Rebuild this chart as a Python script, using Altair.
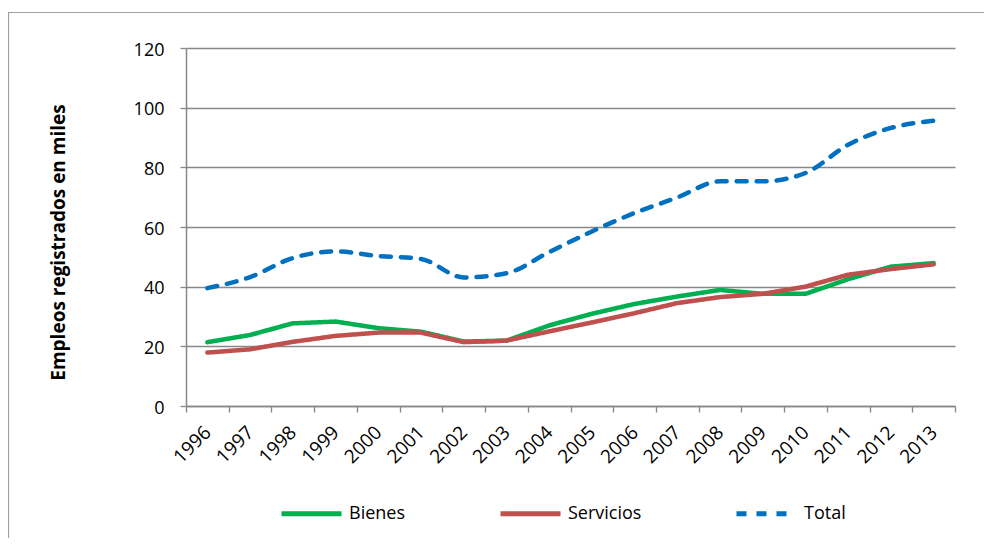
import altair as alt
import pandas as pd

years = [str(y) for y in range(1996, 2014)]
bienes = [21.4, 23.8, 27.7, 28.3, 26.1, 24.9, 21.6, 21.9, 27.0, 30.9, 34.2, 36.7, 38.9, 37.6, 37.6, 42.5, 46.7, 47.9]
servicios = [17.9, 19.0, 21.5, 23.5, 24.6, 24.6, 21.4, 21.9, 25.0, 28.0, 31.1, 34.5, 36.5, 37.6, 40.0, 44.0, 45.9, 47.5]
total = [39.5, 43.2, 49.6, 51.8, 50.3, 49.3, 43.1, 44.5, 51.6, 58.5, 64.7, 69.9, 75.3, 75.3, 78.1, 87.6, 93.2, 95.6]
series = ["Bienes", "Servicios", "Total"]
colors = ["#00B050", "#C0504D", "#0070C0"]
dashes = [[1, 0], [1, 0], [10, 10]]
y_ticks = [0, 20, 40, 60, 80, 100, 120]

rows = []
for name, vals in zip(series, [bienes, servicios, total]):
    for yr, v in zip(years, vals):
        rows.append({"year": yr, "serie": name, "valor": v})
df = pd.DataFrame(rows)

FONT = "Open Sans"
GRID = "#888888"

legend = alt.Legend(
    title=None, orient="none", legendX=93, legendY=433, direction="horizontal",
    symbolType="stroke", symbolSize=3600, symbolStrokeWidth=5,
    labelFont=FONT, labelFontSize=18, labelColor="#000000", labelOffset=5,
    columnPadding=84, padding=0,
)

x_enc = alt.X(
    "year:O", sort=years,
    scale=alt.Scale(type="band", paddingInner=0, paddingOuter=0),
    bandPosition=0.5,
    axis=alt.Axis(
        title=None, labelAngle=-45, tickBand="extent", labelAlign="right",
        labelBaseline="middle", labelPadding=17, tickSize=6, domainColor=GRID,
        tickColor=GRID, domainWidth=1.5, tickWidth=1.3, grid=False,
        labelFontSize=19,
    ),
)
y_enc = alt.Y(
    "valor:Q",
    scale=alt.Scale(domain=[0, 120], nice=False),
    axis=alt.Axis(
        values=y_ticks, title="Empleos registrados en miles", titleFont=FONT,
        titleFontSize=19, titleFontWeight="bold", titleColor="#000000",
        titleAngle=270, titleX=-128, titleY=194, titleAlign="center",
        titleBaseline="middle", labelPadding=16, labelOffset=2, tickSize=6,
        domainColor=GRID, tickColor=GRID, domainWidth=1.5, tickWidth=1.3,
        gridColor=GRID, gridWidth=1.3,
    ),
)
color_enc = alt.Color("serie:N", scale=alt.Scale(domain=series, range=colors), legend=legend)
dash_enc = alt.StrokeDash("serie:N", scale=alt.Scale(domain=series, range=dashes), legend=legend)

base = alt.Chart(df)
solid = base.transform_filter(alt.FieldOneOfPredicate(field="serie", oneOf=["Bienes", "Servicios"])).mark_line(
    strokeWidth=4.5, strokeCap="round", strokeJoin="round"
).encode(x=x_enc, y=y_enc, color=color_enc, strokeDash=dash_enc)
dashed = base.transform_filter(alt.FieldEqualPredicate(field="serie", equal="Total")).mark_line(
    strokeWidth=4.5, strokeCap="round", strokeJoin="round", interpolate="monotone"
).encode(x=x_enc, y=y_enc, color=color_enc, strokeDash=dash_enc)

frame = alt.Chart(alt.Data(values=[{"k": 1}])).mark_rect(
    fill="transparent", stroke="#A0A0A0", strokeWidth=1.2
).encode(x=alt.value(-177.5), x2=alt.value(1000), y=alt.value(-35.5), y2=alt.value(700))

chart = alt.layer(frame, solid, dashed).properties(
    width=769, height=358,
    autosize=alt.AutoSizeParams(type="none"),
    padding={"left": 178, "top": 40, "right": 29, "bottom": 132},
).configure_view(stroke=None).configure_axis(
    labelFont=FONT, labelFontSize=18, labelColor="#000000"
)

chart.save("out.html", embed_options={"renderer": "svg", "actions": False})
